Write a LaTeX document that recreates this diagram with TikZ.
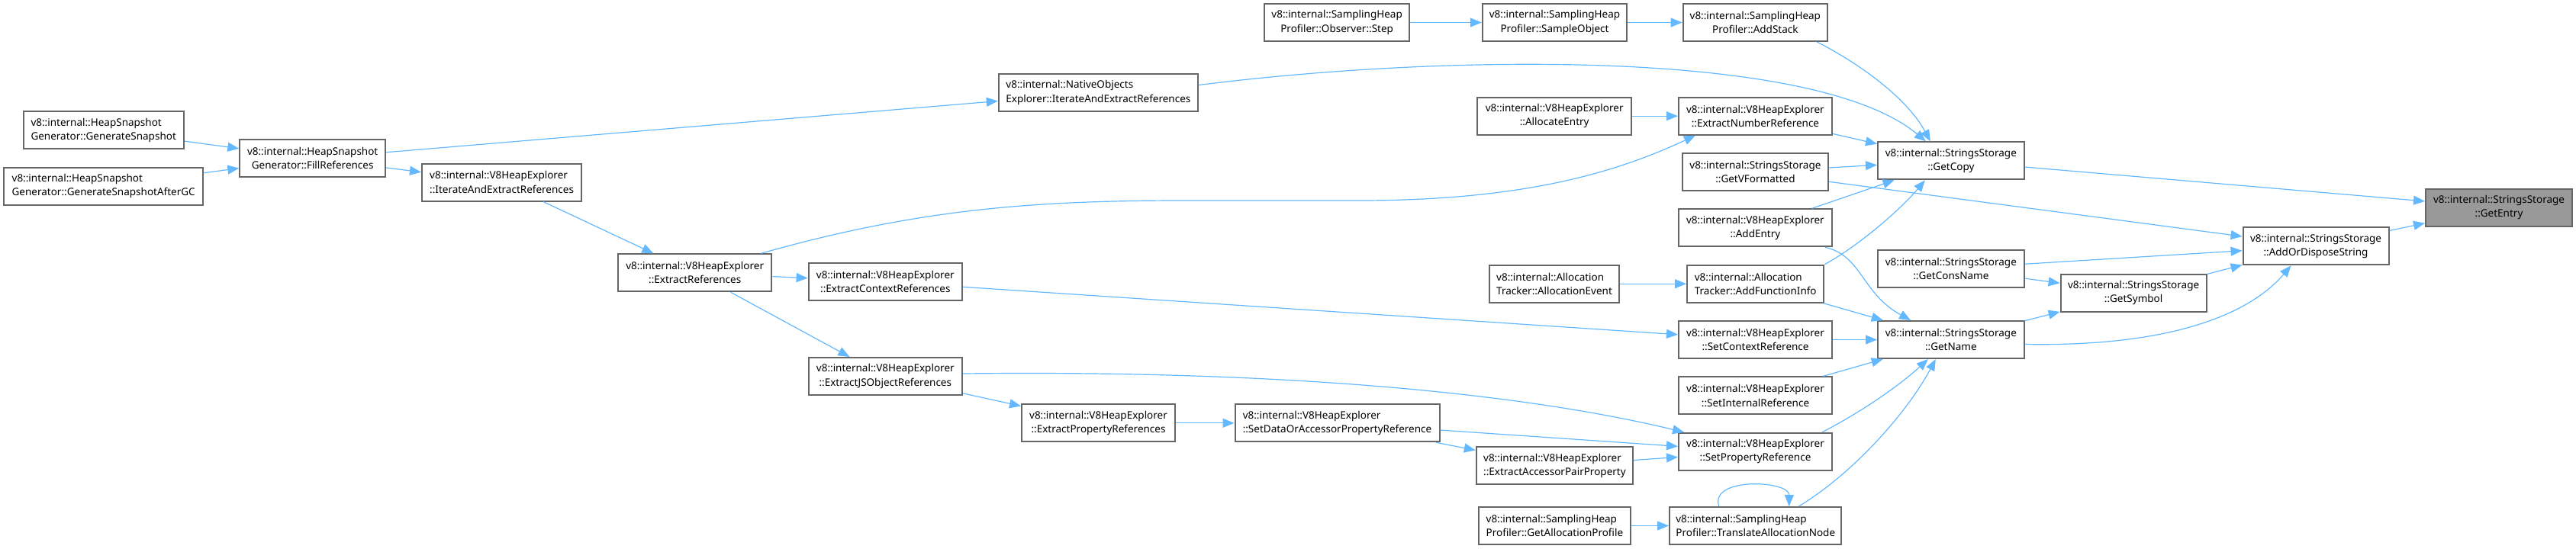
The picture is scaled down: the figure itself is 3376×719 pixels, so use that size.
\documentclass[tikz,border=0pt]{standalone}
\usepackage{fontspec}
\setmainfont{Noto Sans}
\usetikzlibrary{arrows.meta,calc}
\definecolor{edgeblue}{HTML}{63B8FF}
\definecolor{boxline}{HTML}{666666}
\definecolor{hlfill}{HTML}{999999}
\newcommand\boxfont{\fontsize{6.75}{9.15}\selectfont}

\begin{document}
\begin{tikzpicture}[x=0.5pt,y=-0.5pt,
  fn/.style={draw=boxline,line width=1pt,fill=white,minimum height=24.5pt,
    inner sep=0pt,align=center,font=\boxfont},
  fnl/.style={fn,align=left},
  hl/.style={fn,fill=hlfill},
  call/.style={draw=edgeblue,line width=0.6pt,-{Triangle[length=7.5pt,width=6pt]}}]
\useasboundingbox (0,0) rectangle (3376,719);
\node[fnl,minimum width=105.1pt] (gensnap) at (135.7,170.8) {v8::internal::HeapSnapshot\\Generator::GenerateSnapshot};
\node[fnl,minimum width=130.6pt] (gensnapgc) at (135.7,244.2) {v8::internal::HeapSnapshot\\Generator::GenerateSnapshotAfterGC};
\node[fn,minimum width=95.4pt] (fillrefs) at (409.7,207.8) {v8::internal::HeapSnapshot\\Generator::FillReferences};
\node[fnl,minimum width=104.6pt] (v8iter) at (657.6,239) {v8::internal::V8HeapExplorer\\::IterateAndExtractReferences};
\node[fnl,minimum width=130.6pt] (natobj) at (1439.4,121.5) {v8::internal::NativeObjects\\Explorer::IterateAndExtractReferences};
\node[fn,minimum width=100.7pt] (extrefs) at (910.7,357.8) {v8::internal::V8HeapExplorer\\::ExtractReferences};
\node[fn,minimum width=100.7pt] (extctx) at (1160.3,369.5) {v8::internal::V8HeapExplorer\\::ExtractContextReferences};
\node[fn,minimum width=100.7pt] (extjs) at (1160.3,493.5) {v8::internal::V8HeapExplorer\\::ExtractJSObjectReferences};
\node[fn,minimum width=100.5pt] (extprop) at (1439.5,554.8) {v8::internal::V8HeapExplorer\\::ExtractPropertyReferences};
\node[fnl,minimum width=134pt] (setdata) at (1752.5,554.8) {v8::internal::V8HeapExplorer\\::SetDataOrAccessorPropertyReference};
\node[fn,minimum width=94.7pt] (obsstep) at (1752.1,29.5) {v8::internal::SamplingHeap\\Profiler::Observer::Step};
\node[fn,minimum width=94.7pt] (sampleobj) at (2037.5,29.5) {v8::internal::SamplingHeap\\Profiler::SampleObject};
\node[fn,minimum width=94.7pt] (addstack) at (2300.3,29.5) {v8::internal::SamplingHeap\\Profiler::AddStack};
\node[fn,minimum width=100.8pt] (allocentry) at (2037.2,152.2) {v8::internal::V8HeapExplorer\\::AllocateEntry};
\node[fn,minimum width=100.5pt] (extnumref) at (2300.4,152.2) {v8::internal::V8HeapExplorer\\::ExtractNumberReference};
\node[fn,minimum width=95.8pt] (getvfmt) at (2300.4,225.5) {v8::internal::StringsStorage\\::GetVFormatted};
\node[fn,minimum width=100.5pt] (addentry) at (2300.4,298.8) {v8::internal::V8HeapExplorer\\::AddEntry};
\node[fnl,minimum width=85pt] (allocevent) at (2037,372.2) {v8::internal::Allocation\\Tracker::AllocationEvent};
\node[fnl,minimum width=89.7pt] (addfuncinfo) at (2300.7,372.2) {v8::internal::Allocation\\Tracker::AddFunctionInfo};
\node[fn,minimum width=100.5pt] (setctx) at (2300.5,445.5) {v8::internal::V8HeapExplorer\\::SetContextReference};
\node[fn,minimum width=100.5pt] (setint) at (2300.5,518.8) {v8::internal::V8HeapExplorer\\::SetInternalReference};
\node[fnl,minimum width=102.6pt] (extaccpair) at (2037.4,610.8) {v8::internal::V8HeapExplorer\\::ExtractAccessorPairProperty};
\node[fn,minimum width=100.5pt] (setprop) at (2300.5,592.3) {v8::internal::V8HeapExplorer\\::SetPropertyReference};
\node[fnl,minimum width=99.4pt] (getallocprof) at (2037.4,689.5) {v8::internal::SamplingHeap\\Profiler::GetAllocationProfile};
\node[fnl,minimum width=112.7pt] (translate) at (2300.7,689.5) {v8::internal::SamplingHeap\\Profiler::TranslateAllocationNode};
\node[fn,minimum width=95.8pt] (getcopy) at (2556.8,210.8) {v8::internal::StringsStorage\\::GetCopy};
\node[fn,minimum width=95.8pt] (getconsname) at (2556.8,352.2) {v8::internal::StringsStorage\\::GetConsName};
\node[fn,minimum width=95.8pt] (getname) at (2556.8,445.5) {v8::internal::StringsStorage\\::GetName};
\node[fn,minimum width=95.5pt] (getsymbol) at (2796.1,384.2) {v8::internal::StringsStorage\\::GetSymbol};
\node[fn,minimum width=95.5pt] (aods) at (3035,322.8) {v8::internal::StringsStorage\\::AddOrDisposeString};
\node[hl,minimum width=96pt] (getentry) at (3275,272.2) {v8::internal::StringsStorage\\::GetEntry};
\draw[call] (gensnap) -- (fillrefs);
\draw[call] (gensnapgc) -- (fillrefs);
\draw[call] (fillrefs) -- (natobj);
\draw[call] (fillrefs) -- (v8iter);
\draw[call] (v8iter) -- (extrefs);
\draw[call] (extrefs) -- (extctx);
\draw[call] (extrefs) -- (extjs);
\draw[call] (extjs) -- (extprop);
\draw[call] (extprop) -- (setdata);
\draw[call] (setdata) -- (setprop);
\draw[call] (setdata) -- (extaccpair);
\draw[call] (extaccpair) -- (setprop);
\draw[call] (extctx) -- (setctx);
\draw[call] (obsstep) -- (sampleobj);
\draw[call] (sampleobj) -- (addstack);
\draw[call] (allocentry) -- (extnumref);
\draw[call] (allocevent) -- (addfuncinfo);
\draw[call] (getallocprof) -- (translate);
\draw[call] (extnumref) -- (getcopy);
\draw[call] (getvfmt) -- (getcopy);
\draw[call] (getvfmt) -- (aods);
\draw[call] (addentry) -- (getcopy);
\draw[call] (addfuncinfo) -- (getname);
\draw[call] (setctx) -- (getname);
\draw[call] (setint) -- (getname);
\draw[call] (getcopy) -- (getentry);
\draw[call] (getconsname) -- (aods);
\draw[call] (getconsname) -- (getsymbol);
\draw[call] (getname) -- (getsymbol);
\draw[call] (getsymbol) -- (aods);
\draw[call] (aods) -- (getentry);
\draw[call] ($(natobj.east)+(0,-10)$) .. controls (1900,70) and (2380,65) .. ($(getcopy.north)+(-33,0)$);
\draw[call] ($(addstack.south)+(81,0)$) .. controls (2440,85) and (2500,130) .. ($(getcopy.north)+(-27,0)$);
\draw[call] ($(extrefs.north east)+(-15,0)$) .. controls (1200,275) and (1350,263) .. (1550,263)
  -- (1780,263) .. controls (2000,263) and (2120,225) .. ($(extnumref.south west)+(23,0)$);
\draw[call] ($(addentry.south east)+(-10,0)$) .. controls (2440,335) and (2440,385) .. ($(getname.north west)+(44,0)$);
\draw[call] (addfuncinfo.north east) .. controls (2440,320) and (2495,270) .. ($(getcopy.south)+(-34,0)$);
\draw[call] ($(extjs.east)+(0,-3.5)$) .. controls (1600,486) and (1950,505) .. ($(setprop.north west)+(8,0)$);
\draw[call] ($(setprop.north east)+(-14,0)$) .. controls (2440,540) and (2490,505) .. ($(getname.south)+(-30,0)$);
\draw[call] ($(translate.north)+(-48,0)$) .. controls (2240,625) and (2345,630) .. ($(translate.north)+(44,0)$);
\draw[call] ($(translate.north east)+(-57,0)$) .. controls (2430,620) and (2500,540) .. ($(getname.south)+(-20,0)$);
\draw[call] ($(getname.east)+(0,6)$) .. controls (2850,455) and (2950,410) .. ($(aods.south west)+(64,0)$);
\end{tikzpicture}
\end{document}
